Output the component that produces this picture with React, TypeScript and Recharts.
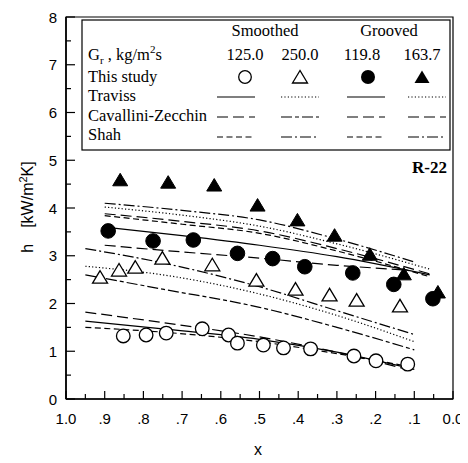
import React from 'react';
import { ComposedChart, Line, Scatter, XAxis, YAxis, ReferenceArea } from 'recharts';

// ---- measured points (This study) ----
const smooth125 = [
  { x: 0.852, y: 1.32 }, { x: 0.793, y: 1.34 }, { x: 0.741, y: 1.38 }, { x: 0.648, y: 1.47 },
  { x: 0.58, y: 1.34 }, { x: 0.557, y: 1.17 }, { x: 0.49, y: 1.13 }, { x: 0.438, y: 1.07 },
  { x: 0.368, y: 1.05 }, { x: 0.256, y: 0.9 }, { x: 0.199, y: 0.8 }, { x: 0.117, y: 0.73 },
];
const smooth250 = [
  { x: 0.912, y: 2.53 }, { x: 0.863, y: 2.68 }, { x: 0.821, y: 2.74 }, { x: 0.751, y: 2.93 },
  { x: 0.622, y: 2.79 }, { x: 0.508, y: 2.47 }, { x: 0.407, y: 2.28 }, { x: 0.319, y: 2.16 },
  { x: 0.249, y: 2.05 }, { x: 0.137, y: 1.93 },
];
const groove119 = [
  { x: 0.891, y: 3.52 }, { x: 0.775, y: 3.31 }, { x: 0.671, y: 3.33 }, { x: 0.557, y: 3.05 },
  { x: 0.466, y: 2.94 }, { x: 0.383, y: 2.77 }, { x: 0.259, y: 2.64 }, { x: 0.153, y: 2.4 },
  { x: 0.052, y: 2.1 },
];
const groove163 = [
  { x: 0.86, y: 4.57 }, { x: 0.736, y: 4.52 }, { x: 0.617, y: 4.46 }, { x: 0.505, y: 4.04 },
  { x: 0.402, y: 3.73 }, { x: 0.306, y: 3.41 }, { x: 0.215, y: 3.01 }, { x: 0.127, y: 2.6 },
  { x: 0.039, y: 2.22 },
];

// ---- correlations ----
const travSm125 = [{ x: 0.95, y: 1.63 }, { x: 0.75, y: 1.47 }, { x: 0.5, y: 1.25 }, { x: 0.3, y: 0.98 }, { x: 0.1, y: 0.62 }];
const cavSm125 = [{ x: 0.95, y: 1.82 }, { x: 0.75, y: 1.6 }, { x: 0.5, y: 1.3 }, { x: 0.3, y: 0.98 }, { x: 0.1, y: 0.58 }];
const shahSm125 = [{ x: 0.95, y: 1.5 }, { x: 0.75, y: 1.4 }, { x: 0.5, y: 1.2 }, { x: 0.3, y: 0.95 }, { x: 0.1, y: 0.66 }];

const travSm250 = [{ x: 0.95, y: 2.78 }, { x: 0.75, y: 2.6 }, { x: 0.5, y: 2.2 }, { x: 0.3, y: 1.75 }, { x: 0.1, y: 1.2 }];
const cavSm250 = [{ x: 0.95, y: 2.6 }, { x: 0.75, y: 2.3 }, { x: 0.5, y: 1.92 }, { x: 0.3, y: 1.5 }, { x: 0.1, y: 1.03 }];
const shahSm250 = [{ x: 0.95, y: 3.15 }, { x: 0.75, y: 2.85 }, { x: 0.5, y: 2.35 }, { x: 0.3, y: 1.85 }, { x: 0.1, y: 1.35 }];

const travGr119 = [{ x: 0.9, y: 3.6 }, { x: 0.7, y: 3.42 }, { x: 0.5, y: 3.22 }, { x: 0.3, y: 2.98 }, { x: 0.06, y: 2.6 }];
const cavGr119 = [{ x: 0.9, y: 3.22 }, { x: 0.7, y: 3.08 }, { x: 0.5, y: 2.95 }, { x: 0.3, y: 2.8 }, { x: 0.12, y: 2.7 }];
const shahGr119 = [{ x: 0.9, y: 3.84 }, { x: 0.7, y: 3.66 }, { x: 0.5, y: 3.47 }, { x: 0.3, y: 3.1 }, { x: 0.06, y: 2.56 }];

const travGr163 = [{ x: 0.9, y: 4.02 }, { x: 0.7, y: 3.85 }, { x: 0.5, y: 3.62 }, { x: 0.3, y: 3.25 }, { x: 0.06, y: 2.72 }];
const cavGr163 = [{ x: 0.9, y: 3.88 }, { x: 0.7, y: 3.72 }, { x: 0.5, y: 3.52 }, { x: 0.3, y: 3.15 }, { x: 0.06, y: 2.62 }];
const shahGr163 = [{ x: 0.9, y: 4.1 }, { x: 0.7, y: 3.95 }, { x: 0.5, y: 3.75 }, { x: 0.3, y: 3.35 }, { x: 0.1, y: 2.87 }];

// ---- ticks ----
const xMajor = [1.0, 0.9, 0.8, 0.7, 0.6, 0.5, 0.4, 0.3, 0.2, 0.1, 0.0];
const xLabels = ['1.0', '.9', '.8', '.7', '.6', '.5', '.4', '.3', '.2', '.1', '0.0'];
const xMinor = [0.95, 0.85, 0.75, 0.65, 0.55, 0.45, 0.35, 0.25, 0.15, 0.05];
const yMajor = [0, 1, 2, 3, 4, 5, 6, 7, 8];
const yLabels = ['0', '1', '2', '3', '4', '5', '6', '7', '8'];
const yMinor = [0.5, 1.5, 2.5, 3.5, 4.5, 5.5, 6.5, 7.5];

// ---- legend texts ----
const groupLabels = ['Smoothed', 'Grooved'];
const gLabels = ['125.0', '250.0', '119.8', '163.7'];
const rowLabels = ['This study', 'Traviss', 'Cavallini-Zecchin', 'Shah'];

const SANS = "'Liberation Sans', Arial, sans-serif";
const SERIF = "'Liberation Serif', 'Times New Roman', serif";

const DOT = '1.2 2.2';
const LDASH = '11 5';
const SDASH = '6 3.5';
const DASHDOT = '11 3 2 3';
const DASHDASH = '11 3 4 3';

const XTick = (props: any) => {
  const { x, y, payload } = props;
  const v = payload.value;
  const idx = xMajor.findIndex((t) => Math.abs(t - v) < 1e-6);
  const major = idx >= 0;
  return (
    <g>
      <line x1={x} x2={x} y1={y} y2={y - (major ? 8 : 5)} stroke="#000" strokeWidth={1.2} />
      {major && (
        <text x={x} y={y + 25} textAnchor="middle" fontSize={15} fontFamily={SANS} fill="#000">
          {xLabels[idx]}
        </text>
      )}
    </g>
  );
};

const YTick = (props: any) => {
  const { x, y, payload } = props;
  const v = payload.value;
  const idx = yMajor.findIndex((t) => Math.abs(t - v) < 1e-6);
  const major = idx >= 0;
  return (
    <g>
      <line x1={x} x2={x + (major ? 9 : 5)} y1={y} y2={y} stroke="#000" strokeWidth={1.2} />
      {major && (
        <text x={x - 9} y={y + 5.5} textAnchor="end" fontSize={15} fontFamily={SANS} fill="#000">
          {yLabels[idx]}
        </text>
      )}
    </g>
  );
};

const openCircle = (p: any) => <circle cx={p.cx} cy={p.cy} r={6.8} fill="#fff" stroke="#000" strokeWidth={1.3} />;
const fillCircle = (p: any) => <circle cx={p.cx} cy={p.cy} r={7.3} fill="#000" stroke="#000" />;
const triPts = (cx: number, cy: number) => `${cx},${cy - 7.5} ${cx - 7.5},${cy + 5} ${cx + 7.5},${cy + 5}`;
const openTri = (p: any) => <polygon points={triPts(p.cx, p.cy)} fill="#fff" stroke="#000" strokeWidth={1.3} />;
const fillTri = (p: any) => <polygon points={triPts(p.cx, p.cy)} fill="#000" stroke="#000" />;

const YLabel = () => (
  <text transform="rotate(-90, 33, 207)" x={33} y={207} textAnchor="middle" fontSize={16} fontFamily={SANS} fill="#000">
    <tspan>h</tspan>
    <tspan dx={16}>[kW/m</tspan>
    <tspan dy={-6} fontSize={11}>2</tspan>
    <tspan dy={6}>K]</tspan>
  </text>
);

const XLabel = () => (
  <text x={258} y={455} textAnchor="middle" fontSize={16} fontFamily={SANS} fill="#000">x</text>
);

const lineProps = { type: 'monotone' as const, dataKey: 'y', dot: false, stroke: '#000', strokeWidth: 1.2, isAnimationActive: false, activeDot: false };

const colX = [245, 300, 362, 422];
const sampleX = [236, 300, 366, 427];
const legendDash: (string | undefined)[][] = [
  [undefined, DOT, undefined, DOT],
  [LDASH, DASHDASH, LDASH, LDASH],
  [SDASH, DASHDOT, SDASH, DASHDOT],
];

export default function App() {
  return (
    <div style={{ position: 'relative', margin: -8, width: 468, height: 463 }}>
      <ComposedChart width={468} height={463} margin={{ top: 17, right: 15, bottom: 24, left: 26 }}>
        <XAxis
          dataKey="x"
          type="number"
          domain={[0, 1]}
          reversed
          ticks={[...xMajor, ...xMinor]}
          interval={0}
          tick={<XTick />}
          tickLine={false}
          tickSize={0}
          tickMargin={0}
          height={40}
          axisLine={{ stroke: '#000', strokeWidth: 1.6 }}
          allowDataOverflow
          label={<XLabel />}
        />
        <YAxis
          type="number"
          domain={[0, 8]}
          ticks={[...yMajor, ...yMinor]}
          interval={0}
          tick={<YTick />}
          tickLine={false}
          tickSize={0}
          tickMargin={0}
          width={40}
          axisLine={{ stroke: '#000', strokeWidth: 1.6 }}
          allowDataOverflow
          label={<YLabel />}
        />
        <ReferenceArea x1={0} x2={1} y1={0} y2={8} fill="none" stroke="#000" strokeWidth={1.2} ifOverflow="visible" />

        <Line {...lineProps} data={travSm125} />
        <Line {...lineProps} data={cavSm125} strokeDasharray={LDASH} />
        <Line {...lineProps} data={shahSm125} strokeDasharray={SDASH} />

        <Line {...lineProps} data={travSm250} strokeDasharray={DOT} />
        <Line {...lineProps} data={cavSm250} strokeDasharray={DASHDASH} />
        <Line {...lineProps} data={shahSm250} strokeDasharray={DASHDOT} />

        <Line {...lineProps} data={travGr119} />
        <Line {...lineProps} data={cavGr119} strokeDasharray={LDASH} />
        <Line {...lineProps} data={shahGr119} strokeDasharray={SDASH} />

        <Line {...lineProps} data={travGr163} strokeDasharray={DOT} />
        <Line {...lineProps} data={cavGr163} strokeDasharray={LDASH} />
        <Line {...lineProps} data={shahGr163} strokeDasharray={DASHDOT} />

        <Scatter data={smooth125} dataKey="y" shape={openCircle} isAnimationActive={false} />
        <Scatter data={smooth250} dataKey="y" shape={openTri} isAnimationActive={false} />
        <Scatter data={groove119} dataKey="y" shape={fillCircle} isAnimationActive={false} />
        <Scatter data={groove163} dataKey="y" shape={fillTri} isAnimationActive={false} />
      </ComposedChart>

      <svg width={468} height={463} style={{ position: 'absolute', left: 0, top: 0, pointerEvents: 'none' }}>
        <rect x={82} y={20} width={368} height={130} fill="#fff" stroke="#000" strokeWidth={1.2} />
        <g fontFamily={SERIF} fontSize={16.5} fill="#000">
          <text x={265} y={36} textAnchor="middle">{groupLabels[0]}</text>
          <text x={389} y={36} textAnchor="middle">{groupLabels[1]}</text>
          <text x={88} y={60}>
            <tspan>G</tspan>
            <tspan dy={4} fontSize={11}>r</tspan>
            <tspan dy={-4}> , kg/m</tspan>
            <tspan dy={-7} fontSize={11}>2</tspan>
            <tspan dy={7}>s</tspan>
          </text>
          {gLabels.map((g, i) => (
            <text key={g} x={colX[i]} y={60} textAnchor="middle">{g}</text>
          ))}
          {rowLabels.map((r, i) => (
            <text key={r} x={88} y={[82, 101, 121, 140][i]}>{r}</text>
          ))}
        </g>
        <circle cx={245} cy={77} r={6.3} fill="#fff" stroke="#000" strokeWidth={1.3} />
        <polygon points={triPts(300, 78)} fill="#fff" stroke="#000" strokeWidth={1.3} />
        <circle cx={368} cy={77} r={7} fill="#000" />
        <polygon points={triPts(422, 78)} fill="#000" />
        {legendDash.map((row, ri) =>
          row.map((d, ci) => (
            <line
              key={`${ri}-${ci}`}
              x1={sampleX[ci] - 19}
              x2={sampleX[ci] + 19}
              y1={[97, 117, 137][ri]}
              y2={[97, 117, 137][ri]}
              stroke="#000"
              strokeWidth={1.2}
              strokeDasharray={d}
            />
          ))
        )}
        <text x={447} y={173} textAnchor="end" fontFamily={SERIF} fontWeight="bold" fontSize={17} fill="#000">R-22</text>
      </svg>
    </div>
  );
}
